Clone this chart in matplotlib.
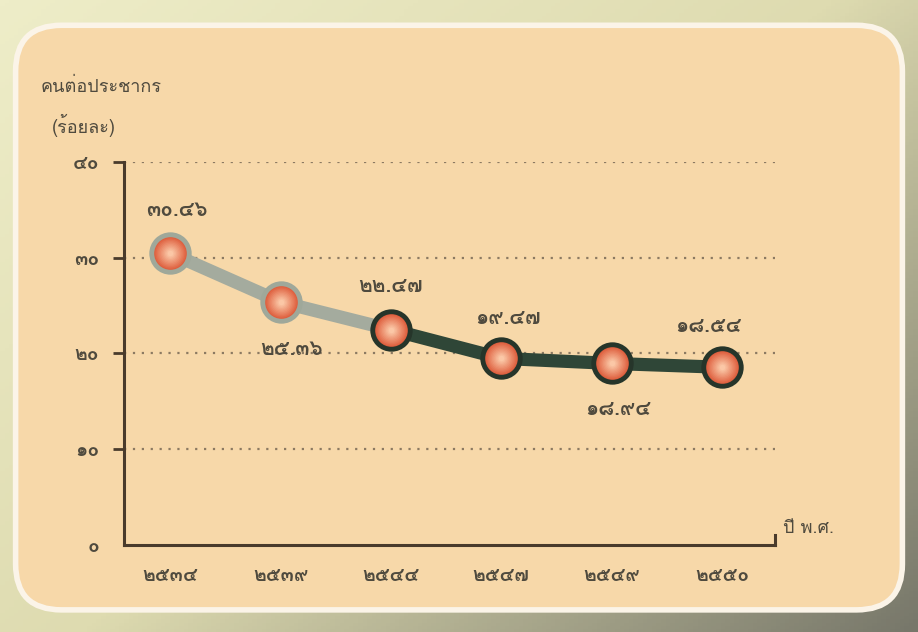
import matplotlib
matplotlib.use('Agg')
import matplotlib.pyplot as plt
from matplotlib import font_manager
from matplotlib.ft2font import FT2Font
from matplotlib.patches import FancyBboxPatch
from matplotlib.colors import LinearSegmentedColormap, to_rgb
import numpy as np

# data (Buddhist era years, percent)
years = [2534, 2539, 2544, 2547, 2549, 2550]
values = [30.46, 25.36, 22.47, 19.47, 18.94, 18.54]
yticks = [0, 10, 20, 30, 40]
ylabel_lines = ['คนต่อประชากร', '(ร้อยละ)']
xlabel = 'ปี พ.ศ.'

THAI_DIGITS = str.maketrans('0123456789', '๐๑๒๓๔๕๖๗๘๙')


def thai_num(v, fmt='{}'):
    return fmt.format(v).translate(THAI_DIGITS)


def find_thai_font():
    """Return the name of an installed font that has Thai glyphs, if any."""
    for f in font_manager.fontManager.ttflist:
        try:
            if FT2Font(f.fname).get_char_index(ord('ก')):
                return f.name
        except Exception:
            continue
    return None


thai = find_thai_font()
families = [thai, 'DejaVu Sans'] if thai else ['DejaVu Sans']
plt.rcParams['font.family'] = families

fig = plt.figure(figsize=(9.18, 6.32), dpi=100)

# photo-like background and rounded panel
bg = fig.add_axes([0, 0, 1, 1], zorder=0)
gx, gy = np.meshgrid(np.linspace(0, 1, 200), np.linspace(0, 1, 200))
grad = 0.55 * gx + 0.45 * gy
bg.imshow(grad, cmap=LinearSegmentedColormap.from_list(
    'bgc', ['#eeedc8', '#dedbb0', '#77776a']), extent=[0, 1, 0, 1],
    aspect='auto', origin='upper')
bg.add_patch(FancyBboxPatch((0.017, 0.035), 0.966, 0.925,
                            boxstyle='round,pad=0,rounding_size=0.05',
                            mutation_aspect=918 / 632,
                            facecolor='#f7d8a9', edgecolor='#fbf4e8', linewidth=4))
bg.set_xlim(0, 1)
bg.set_ylim(0, 1)
bg.axis('off')

ax = fig.add_axes([0.135, 0.138, 0.709, 0.606], zorder=1)
ax.patch.set_alpha(0)

x = np.arange(len(years))
axis_col = '#4a3b2c'
text_col = '#4f4a3e'

# dotted grid lines
for t in yticks[1:]:
    ax.axhline(t, color='#8c7a62', linestyle=(0, (1, 3)), linewidth=1.6, zorder=1)

# line: first part pale, rest dark
ax.plot(x[:3], values[:3], color='#a4ab9e', linewidth=9.5, solid_capstyle='round', zorder=2)
ax.plot(x[2:], values[2:], color='#2f4637', linewidth=9.5, solid_capstyle='round', zorder=2)

# spherical looking markers: stack of shrinking discs getting lighter
edge_cols = ['#9fa89a', '#9fa89a', '#26352a', '#26352a', '#26352a', '#26352a']
outer, inner = np.array(to_rgb('#de5f3e')), np.array(to_rgb('#fbc7a6'))
for xi, v, ec in zip(x, values, edge_cols):
    ax.plot(xi, v, 'o', markersize=27, markerfacecolor='#de5f3e',
            markeredgecolor=ec, markeredgewidth=3.5, zorder=3)
    for k, s in enumerate(np.linspace(22, 4, 10)):
        c = outer + (inner - outer) * (k + 1) / 10
        ax.plot(xi, v, 'o', markersize=s, markerfacecolor=c,
                markeredgewidth=0, zorder=4 + k)

# value labels
offsets = [(5, 31), (8, -34), (0, 31), (5, 29), (5, -33), (-10, 29)]
for xi, v, off in zip(x, values, offsets):
    ax.annotate(thai_num(v, '{:.2f}'), (xi, v), xytext=off, textcoords='offset points',
                ha='center', va='center', fontsize=15, fontweight='bold', color=text_col)

ax.set_xlim(-0.42, 5.48)
ax.set_ylim(0, 40)
ax.set_xticks(x)
ax.set_xticklabels([thai_num(yr) for yr in years], fontsize=14, fontweight='bold',
                   color=text_col)
ax.set_yticks(yticks)
ax.set_yticklabels([thai_num(t) for t in yticks], fontsize=14, fontweight='bold',
                   color=text_col)
ax.tick_params(axis='x', length=0, pad=16)
ax.tick_params(axis='y', length=8, width=2, color=axis_col, pad=10)
ax.yaxis.get_major_ticks()[0].tick1line.set_visible(False)

for side in ['top', 'right']:
    ax.spines[side].set_visible(False)
for side in ['left', 'bottom']:
    ax.spines[side].set_color(axis_col)
    ax.spines[side].set_linewidth(2.2)
# small hook at the end of the x axis
ax.plot([1, 1], [0, 0.025], transform=ax.transAxes, color=axis_col, linewidth=2.2,
        clip_on=False)

# axis titles
fig.text(0.044, 0.862, ylabel_lines[0], fontsize=13, color=text_col, ha='left', va='center')
fig.text(0.057, 0.802, ylabel_lines[1], fontsize=13, color=text_col, ha='left', va='center')
ax.text(1.012, 0.02, xlabel, transform=ax.transAxes, fontsize=13, color=text_col,
        ha='left', va='bottom')

plt.savefig('out.png', dpi=100)
